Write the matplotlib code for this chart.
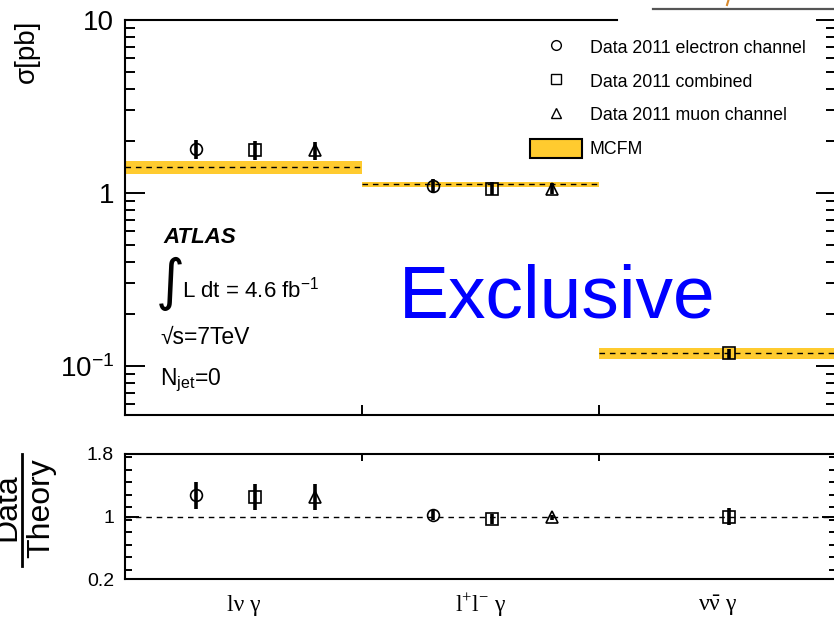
import numpy as np
import matplotlib
matplotlib.use('Agg')
import matplotlib.pyplot as plt
import matplotlib.ticker as mticker
from matplotlib.lines import Line2D
from matplotlib.patches import Patch

plt.rcParams['font.family'] = ['Liberation Sans', 'DejaVu Sans']
plt.rcParams['mathtext.fontset'] = 'custom'
plt.rcParams['mathtext.rm'] = 'Liberation Sans'
plt.rcParams['mathtext.it'] = 'Liberation Sans:italic'
plt.rcParams['mathtext.bf'] = 'Liberation Sans:bold'

# --- dados ---
canais = [r'lν γ', r'l$^{\mathregular{+}}$l$^{\mathregular{-}}$ γ', r'ν$\bar{\mathregular{ν}}$ γ']

mcfm = [1.41, 1.12, 0.118]
mcfm_err = [0.13, 0.035, 0.009]

sig_el = [1.80, 1.10]
sig_el_err = [0.23, 0.10]
sig_comb = [1.78, 1.06, 0.118]
sig_comb_err = [0.22, 0.09, 0.008]
sig_mu = [1.77, 1.06]
sig_mu_err = [0.21, 0.08]

rat_el = [1.27, 1.02]
rat_el_err = [0.17, 0.06]
rat_comb = [1.25, 0.97, 1.00]
rat_comb_err = [0.17, 0.06, 0.11]
rat_mu = [1.25, 0.99]
rat_mu_err = [0.17, 0.03]

off_el, off_comb, off_mu = 0.30, 0.55, 0.80
amarelo = '#ffcb2f'

fig = plt.figure(figsize=(8.34, 6.2), dpi=100)
W, H = 834.0, 620.0
ax = fig.add_axes([125 / W, 1 - 415 / H, (836 - 125) / W, (415 - 20) / H])
rax = fig.add_axes([125 / W, 1 - 579 / H, (836 - 125) / W, (579 - 454) / H])

# painel de cima: bandas MCFM
for i, (m, e) in enumerate(zip(mcfm, mcfm_err)):
    ax.bar(i, 2 * e, bottom=m - e, width=1, align='edge', color=amarelo, lw=0, zorder=1)
    ax.hlines(m, i, i + 1, colors='k', linestyles=(0, (4, 3.5)), lw=1, zorder=2)

def pontos(a, xs, ys, es, mk, ms):
    a.errorbar(xs, ys, yerr=es, fmt=mk, ms=ms, mfc='none', mec='k', mew=1.2,
               ecolor='k', elinewidth=2.6, capsize=0, zorder=3)

x_el = np.arange(len(sig_el)) + off_el
x_comb = np.arange(len(sig_comb)) + off_comb
x_mu = np.arange(len(sig_mu)) + off_mu

pontos(ax, x_el, sig_el, sig_el_err, 'o', 8.5)
pontos(ax, x_comb, sig_comb, sig_comb_err, 's', 8.5)
pontos(ax, x_mu, sig_mu, sig_mu_err, '^', 8.5)

ax.set_yscale('log')
ax.set_xlim(0, 3)
ax.set_ylim(0.052, 10)
ax.yaxis.set_major_locator(mticker.FixedLocator([0.1, 1, 10]))
ax.yaxis.set_major_formatter(mticker.FixedFormatter([r'10$^{\mathregular{-1}}$', '1', '10']))
ax.yaxis.set_minor_locator(mticker.LogLocator(base=10, subs=np.arange(2, 10)))
ax.yaxis.set_minor_formatter(mticker.NullFormatter())
ax.set_xticks([1, 2])
ax.set_xticklabels([])
ax.tick_params(axis='y', which='major', direction='in', length=14.4, width=1.4,
               labelsize=20, pad=8, right=True)
ax.tick_params(axis='y', which='minor', direction='in', length=7.2, width=1.4, right=True)
ax.tick_params(axis='x', which='major', direction='in', length=7.2, width=1.4)
for s in ax.spines.values():
    s.set_linewidth(1.5)
ax.spines['right'].set_visible(False)
ax.spines['top'].set_bounds(0, (617 - 125) / 237.0)

# legenda
handles = [
    Line2D([], [], marker='o', ls='none', ms=7, mfc='none', mec='k', mew=1),
    Line2D([], [], marker='s', ls='none', ms=7, mfc='none', mec='k', mew=1),
    Line2D([], [], marker='^', ls='none', ms=7, mfc='none', mec='k', mew=1),
    Patch(facecolor=amarelo, edgecolor='k', lw=1.5),
]
labels = ['Data 2011 electron channel', 'Data 2011 combined', 'Data 2011 muon channel', 'MCFM']
fig.legend(handles, labels, loc='upper left', bbox_to_anchor=(530 / W, 1 - 37 / H),
           frameon=False, fontsize=12.8, handlelength=2.92, handleheight=1.3,
           handletextpad=0.45, labelspacing=0.8, borderpad=0, borderaxespad=0)

# textos
fig.text(163 / W, 1 - 238 / H, 'ATLAS', fontsize=16, fontweight='bold', fontstyle='italic',
         va='center', ha='left')
fig.text(156 / W, 1 - 284 / H, '\u222b', fontsize=40, family=['DejaVu Sans'],
         va='center', ha='left')
fig.text(182 / W, 1 - 290 / H, r'L dt = 4.6 fb$^{\mathregular{-1}}$', fontsize=16,
         va='center', ha='left')
fig.text(160 / W, 1 - 337 / H, '\u221as=7TeV', fontsize=16.5, va='center', ha='left')
fig.text(160 / W, 1 - 380 / H, r'N$_{\mathregular{jet}}$=0', fontsize=16.5, va='center', ha='left')
fig.text(399 / W, 1 - 318 / H, 'Exclusive', fontsize=54, color='#0000ff',
         va='baseline', ha='left')

fig.text(27 / W, 1 - 20 / H, '\u03c3[pb]', fontsize=20, rotation=90, va='top', ha='center')

# painel de baixo: razão
rax.axhline(1, color='k', ls=(0, (4, 3.5)), lw=1, zorder=1)
pontos(rax, x_el, rat_el, rat_el_err, 'o', 8.5)
pontos(rax, x_comb, rat_comb, rat_comb_err, 's', 8.5)
pontos(rax, x_mu, rat_mu, rat_mu_err, '^', 8.5)
rax.set_xlim(0, 3)
rax.set_ylim(0.2, 1.8)
rax.set_yticks([0.2, 1.0, 1.8])
rax.set_yticklabels(['0.2', '1', '1.8'])
rax.yaxis.set_minor_locator(mticker.MultipleLocator(0.16))
rax.set_xticks([1, 2])
rax.set_xticklabels([])
rax.tick_params(axis='y', which='major', direction='in', length=10, width=1.4,
                labelsize=14, pad=8, right=True)
rax.tick_params(axis='y', which='minor', direction='in', length=5, width=1.4, right=True)
rax.tick_params(axis='x', which='major', direction='in', length=5, width=1.4,
                top=True, bottom=False)
for s in rax.spines.values():
    s.set_linewidth(1.5)
rax.spines['right'].set_visible(False)

for i, lab in enumerate(canais):
    rax.text(i + 0.5, -0.21, lab, transform=rax.get_xaxis_transform(), ha='center',
             va='center', fontsize=17, family=['Liberation Serif'])

# rótulo Data/Theory
fig.text(7 / W, 1 - 507 / H, 'Data', fontsize=23, rotation=90, va='center', ha='center')
fig.text(41 / W, 1 - 508 / H, 'Theory', fontsize=23, rotation=90, va='center', ha='center')
fig.add_artist(Line2D([22 / W, 22 / W], [1 - 566 / H, 1 - 454 / H], color='k', lw=2))

# resto de outro gráfico cortado no topo
fig.add_artist(Line2D([653 / W, 1], [1 - 9 / H, 1 - 9 / H], color='#555555', lw=1.6))
fig.add_artist(Line2D([728.5 / W, 727 / W], [1.0, 1 - 5 / H], color='#d9892b', lw=1.5))

plt.savefig('out.png', dpi=100)
